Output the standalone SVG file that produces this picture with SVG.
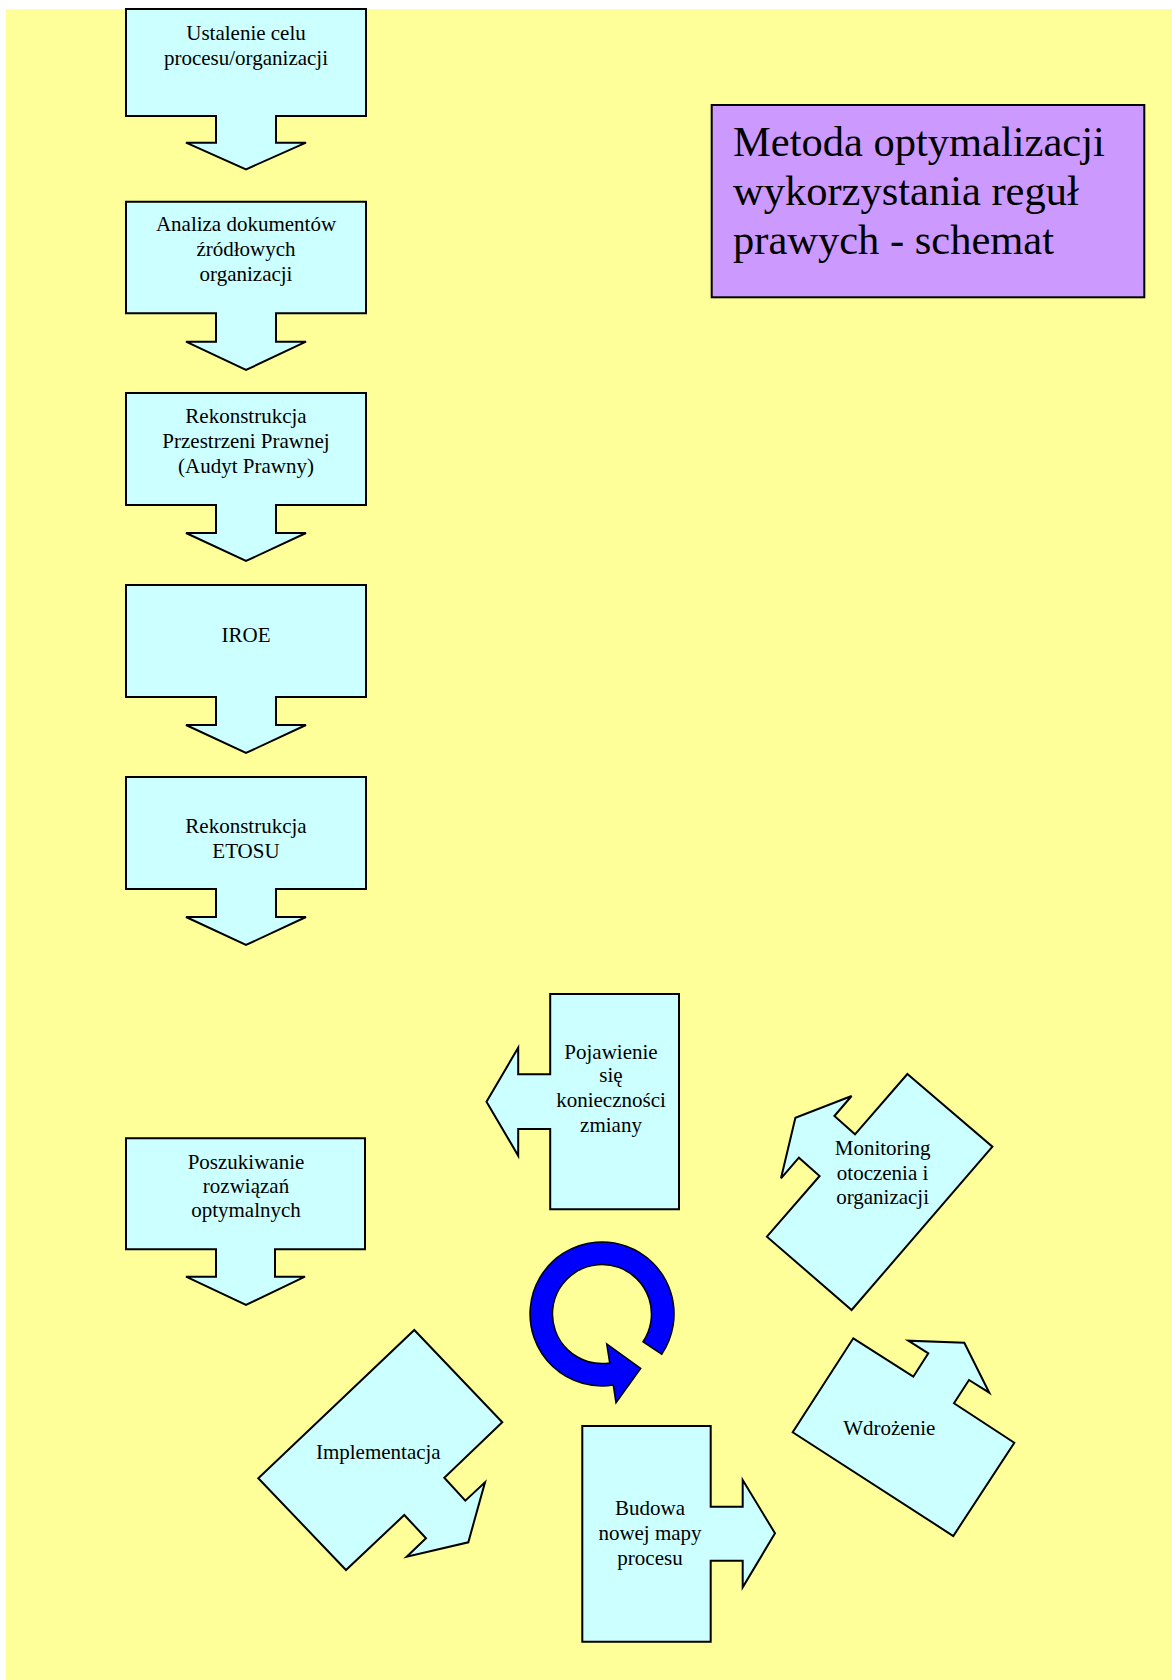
<svg xmlns="http://www.w3.org/2000/svg" width="1172" height="1680" viewBox="0 0 1172 1680">
  <style>
    .shape { fill: #CCFFFF; stroke: #000; stroke-width: 2; stroke-linejoin: miter; }
    .title { fill: #CC99FF; stroke: #000; stroke-width: 2; }
    .lbl { font-family: "Liberation Serif", "Times New Roman", serif; font-size: 21px; fill: #000; text-anchor: middle; }
    .ttl { font-family: "Liberation Serif", "Times New Roman", serif; font-size: 42.5px; fill: #000; }
    .cycle { fill: #0000FF; stroke: #000; stroke-width: 1.5; stroke-linejoin: miter; }
  </style>

  <!-- page background -->
  <rect x="6" y="9" width="1166" height="1671" fill="#FFFF99"/>

  <!-- left column: rectangles with a downward block arrow -->
  <g id="step-ustalenie">
    <path class="shape" d="M126,9 H366 V116 H276 V142.7 H306 L246,169.3 L186,142.7 H216 V116 H126 Z"/>
    <text class="lbl" x="246" y="39.5">Ustalenie celu</text>
    <text class="lbl" x="246" y="64.5">procesu/organizacji</text>
  </g>

  <g id="step-analiza">
    <path class="shape" d="M126,201.7 H366 V313.3 H276 V341.7 H306 L246,370 L186,341.7 H216 V313.3 H126 Z"/>
    <text class="lbl" x="246" y="231">Analiza dokumentów</text>
    <text class="lbl" x="246" y="256">źródłowych</text>
    <text class="lbl" x="246" y="281">organizacji</text>
  </g>

  <g id="step-przestrzen">
    <path class="shape" d="M126,393 H366 V505 H276 V533 H306 L246,561 L186,533 H216 V505 H126 Z"/>
    <text class="lbl" x="246" y="423">Rekonstrukcja</text>
    <text class="lbl" x="246" y="448">Przestrzeni Prawnej</text>
    <text class="lbl" x="246" y="473">(Audyt Prawny)</text>
  </g>

  <g id="step-iroe">
    <path class="shape" d="M126,585 H366 V697 H276 V725 H306 L246,753 L186,725 H216 V697 H126 Z"/>
    <text class="lbl" x="246" y="641.5">IROE</text>
  </g>

  <g id="step-etos">
    <path class="shape" d="M126,777 H366 V889 H276 V917 H306 L246,945 L186,917 H216 V889 H126 Z"/>
    <text class="lbl" x="246" y="832.5">Rekonstrukcja</text>
    <text class="lbl" x="246" y="857.5">ETOSU</text>
  </g>

  <g id="step-poszukiwanie">
    <path class="shape" d="M126,1138.3 H365 V1249.3 H275 V1276.7 H305 L246,1305 L186,1276.7 H216 V1249.3 H126 Z"/>
    <text class="lbl" x="246" y="1168.5">Poszukiwanie</text>
    <text class="lbl" x="246" y="1192.5">rozwiązań</text>
    <text class="lbl" x="246" y="1217">optymalnych</text>
  </g>

  <!-- title box -->
  <g id="title">
    <rect class="title" x="711.7" y="105" width="432.6" height="192.3"/>
    <text class="ttl" x="733" y="155.5">Metoda optymalizacji</text>
    <text class="ttl" x="733" y="204.5">wykorzystania reguł</text>
    <text class="ttl" x="733" y="253.5">prawych - schemat</text>
  </g>

  <!-- improvement cycle -->
  <g id="cycle-pojawienie">
    <path class="shape" d="M550.2,994 H679 V1209.3 H550.2 V1129 H518.2 V1155.7 L486.5,1101.7 L518.2,1047.7 V1074.3 H550.2 Z"/>
    <text class="lbl" x="611" y="1058.8">Pojawienie</text>
    <text class="lbl" x="611" y="1082.2">się</text>
    <text class="lbl" x="611" y="1107.2">konieczności</text>
    <text class="lbl" x="611" y="1132.2">zmiany</text>
  </g>

  <g id="cycle-monitoring">
    <path class="shape" d="M907.4,1074 L992.4,1146.7 L851.6,1310 L766.9,1236.7 L819.6,1176 L798.9,1157.7 L781,1178.3 L795.4,1117.7 L851.6,1096 L834.4,1116 L855,1134.3 Z"/>
    <text class="lbl" x="882.6" y="1155">Monitoring</text>
    <text class="lbl" x="882.6" y="1180">otoczenia i</text>
    <text class="lbl" x="882.6" y="1203.5">organizacji</text>
  </g>

  <g id="cycle-wdrozenie">
    <path class="shape" d="M853.3,1338.3 L913.3,1376.7 L928.3,1353.3 L908.3,1340.7 L964.3,1342.7 L989.3,1392.7 L969,1380 L954,1403.3 L1014.3,1442.7 L953.3,1536 L792.7,1432.3 Z"/>
    <text class="lbl" x="889.3" y="1434.5">Wdrożenie</text>
  </g>

  <g id="cycle-budowa">
    <path class="shape" d="M582.3,1426 H710.7 V1506.7 H742.7 V1480 L775,1533.3 L742.7,1587.3 V1560.7 H710.7 V1641.7 H582.3 Z"/>
    <text class="lbl" x="650" y="1515">Budowa</text>
    <text class="lbl" x="650" y="1540">nowej mapy</text>
    <text class="lbl" x="650" y="1565">procesu</text>
  </g>

  <g id="cycle-implementacja">
    <path class="shape" d="M414.3,1330 L502.3,1422.3 L444.3,1477.7 L465.3,1500.7 L485,1482.3 L468.3,1542.3 L406.7,1556.7 L426,1538.3 L404.3,1515 L346,1570 L258.3,1478.3 Z"/>
    <text class="lbl" x="378.3" y="1458.5">Implementacja</text>
  </g>

  <!-- circular arrow in the middle of the cycle -->
  <g id="cycle-arrow">
    <path class="cycle" d="M661.7,1354.3 A72,72 0 1 0 613.3,1385.1 L616,1402.7 L640.7,1368.3 L606.7,1344 L609.7,1362.9 A49.5,49.5 0 1 1 643,1341.7 Z"/>
  </g>
</svg>
